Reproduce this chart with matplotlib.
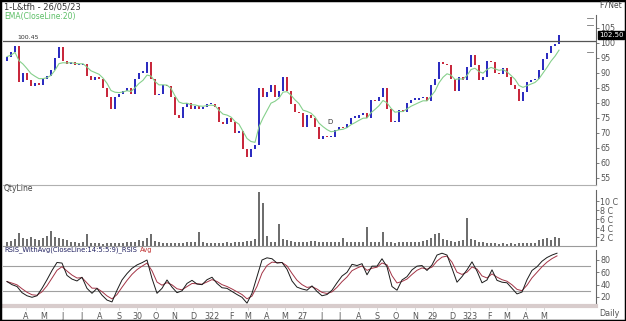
import numpy as np
import pandas as pd
import matplotlib
matplotlib.use("Agg")
import matplotlib.pyplot as plt
from matplotlib.patches import Rectangle

# ---- data (one sample every ~4 trading days) ----
closes = [
    95.3, 97, 99, 87, 90, 87.5, 85.5, 86.5, 86, 88,
    89, 91, 95, 98.5, 94, 93, 93.5, 92.5, 92.5, 93,
    89, 87.5, 88.5, 88, 85, 82, 78, 82, 83, 84,
    85, 83, 88, 90, 90, 93.5, 88, 82.5, 83, 86,
    85.5, 82, 76, 75, 78.5, 80, 78, 79, 78, 78.5,
    79.5, 79.5, 78.5, 73.5, 73, 75, 73.5, 70, 70.5, 64.5,
    62, 64.5, 66, 85, 82, 83.5, 86, 82, 84, 88.5,
    84, 79.5, 77, 76.5, 72, 76, 75, 72, 68, 69,
    68.5, 68.5, 71, 72, 71.5, 73, 75, 75, 76, 76.5,
    75, 81, 80.5, 82, 85, 78, 73.5, 73.5, 77.5, 77,
    80, 81, 81, 81.5, 82, 80.5, 86, 88, 93.5, 93,
    92.5, 88, 84, 88.5, 87.5, 92, 96, 92.5, 87.5, 88.5,
    94, 93.5, 90, 89.5, 91.5, 88.5, 86, 84.5, 80.5, 83.5,
    87, 87.5, 88, 91, 94.5, 96.5, 99, 99.5, 102.5,
]
volume_cr = [
    1.0, 1.2, 1.6, 2.9, 1.8, 1.5, 2.0, 1.6, 1.3, 1.8,
    2.2, 3.4, 2.0, 1.8, 1.6, 1.4, 1.0, 0.8, 0.7, 0.8,
    2.7, 0.7, 0.6, 0.6, 0.5, 0.6, 0.7, 0.6, 0.6, 0.7,
    0.8, 0.8, 1.0, 1.3, 1.2, 1.8, 2.7, 1.2, 0.8, 0.6,
    0.6, 0.6, 0.6, 0.6, 0.7, 0.8, 0.8, 0.9, 3.2, 0.8,
    0.7, 0.6, 0.7, 0.6, 0.7, 0.8, 0.7, 0.8, 0.9, 1.0,
    1.1, 1.2, 1.5, 12.0, 9.5, 2.2, 0.9, 0.8, 5.0, 1.5,
    1.3, 1.1, 0.9, 0.8, 0.9, 1.0, 1.2, 1.1, 1.0, 0.8,
    0.8, 0.9, 1.0, 0.8, 1.7, 1.0, 0.9, 0.8, 0.8, 0.8,
    4.2, 1.0, 1.0, 0.9, 3.1, 0.9, 0.8, 0.7, 0.9, 0.8,
    1.0, 0.9, 1.0, 0.9, 1.2, 1.3, 1.8, 2.7, 3.0, 1.6,
    1.3, 1.2, 1.0, 1.1, 1.3, 6.2, 1.5, 1.3, 1.0, 0.8,
    0.7, 0.6, 0.6, 0.5, 0.6, 0.5, 0.6, 0.5, 0.6, 0.7,
    0.6, 0.6, 0.7, 1.3, 1.6, 1.8, 1.4, 2.0, 1.7,
]
# RSI sampled every 5 trading days
rsi = [
    45, 40, 37, 27, 22, 19.5, 22, 34, 48, 63,
    76, 75, 55, 49, 46, 52, 34, 26, 34, 23,
    15, 12, 31, 47.6, 58, 66.5, 72, 75.6, 80, 50,
    26, 34, 47.6, 36, 27, 30, 42, 47, 41, 40,
    48, 52, 42, 35, 34, 29, 24, 19.5, 10, 26,
    53, 80, 83.5, 82, 75, 76, 65, 46, 36, 33,
    31, 38, 29, 22, 24, 31, 43, 54, 60, 73,
    71, 74, 56, 70, 70, 82, 69, 37, 31, 47.6,
    53, 64, 70, 71, 63, 72, 88, 91, 88, 66.5,
    44, 53, 64, 77, 62, 43, 47.6, 64, 47, 44,
    43, 34, 25, 28, 48, 63, 69, 78, 84, 88, 91,
]
month_labels = ["A", "M", "J", "J", "A", "S", "30", "O", "N", "D", "322", "F", "M", "A", "M",
                "27", "J", "J", "A", "S", "O", "N", "29", "D", "323", "F", "M", "A", "M"]
month_days = [19, 37, 56, 75, 93, 112, 130, 149, 167, 186, 205, 224, 241, 260, 278,
              296, 315, 333, 352, 370, 389, 408, 426, 445, 463, 482, 500, 519, 537]
ref_level = 100.45
d_marker_day = 323

days = np.arange(len(closes)) * 4
rsi_days = np.arange(len(rsi)) * 5
closes_s = pd.Series(closes, dtype=float)
opens = closes_s.shift(1).fillna(closes_s.iloc[0] - 1.5)
ema = closes_s.ewm(span=6, adjust=False).mean()
rsi_s = pd.Series(rsi, dtype=float)
rsi_avg = rsi_s.ewm(span=3, adjust=False).mean()

W, H = 626, 321
fig = plt.figure(figsize=(W / 100, H / 100), dpi=100)
fig.patch.set_facecolor("white")


def px_rect(x0, y0, x1, y1):
    return [x0 / W, 1 - y1 / H, (x1 - x0) / W, (y1 - y0) / H]


def ftext(x, y, s, **kw):
    fig.text(x / W, 1 - y / H, s, **kw)


XL = (-4, 589)
TICK_C = "#555555"

# ---- price panel ----
ax_p = fig.add_axes(px_rect(3, 15, 596, 185))
up = closes_s.values >= opens.values
body_lo = np.minimum(opens.values, closes_s.values)
body_h = np.maximum(np.abs(closes_s.values - opens.values), 0.4)
cols = np.where(up, "#2c2cc0", "#c8283c")
ax_p.bar(days, body_h, bottom=body_lo, width=2.4, color=cols, edgecolor="none")
ax_p.plot(days, ema, color="#86d08c", lw=0.8)
ax_p.axhline(ref_level, color="#555555", lw=0.9)
ax_p.text(10, ref_level + 0.7, "100.45", fontsize=4.5, color="#333333")
ax_p.text(d_marker_day, closes[d_marker_day // 4] + 4.5, "D", fontsize=5, color="#333333", ha="center")
ax_p.set_xlim(*XL)
ax_p.set_ylim(52.5, 109.17)
ax_p.set_yticks(range(55, 106, 5))
for lv in (108.2, 105.8, 96.8):
    ax_p.plot([0.985, 0.995], [lv, lv], transform=ax_p.get_yaxis_transform(), color="#777777", lw=0.6)
ax_p.annotate(f"{closes[-1]:.2f}", xy=(1.0, closes[-1]), xycoords=ax_p.get_yaxis_transform(),
              xytext=(2, 0), textcoords="offset points", va="center", fontsize=5, color="white",
              bbox=dict(boxstyle="square,pad=0.12", fc="black", ec="black"))

# ---- volume panel ----
ax_v = fig.add_axes(px_rect(3, 190, 596, 246))
ax_v.bar(days, volume_cr, width=2.6, color="#6e6e6e", edgecolor="none")
ax_v.set_xlim(*XL)
ax_v.set_ylim(0, 12.5)
ax_v.set_yticks([2, 4, 6, 8, 10])
ax_v.set_yticklabels(["2 C", "4 C", "6 C", "8 C", "10 C"])

# ---- RSI panel ----
ax_r = fig.add_axes(px_rect(3, 250, 596, 306))
ax_r.plot([XL[0], 583], [70, 70], color="#a0a0a0", lw=0.8)
ax_r.plot([XL[0], 583], [30, 30], color="#a0a0a0", lw=0.8)
ax_r.plot(rsi_days, rsi_avg, color="#a33446", lw=0.7)
ax_r.plot(rsi_days, rsi_s, color="#1a1a1a", lw=0.7)
ax_r.set_xlim(*XL)
ax_r.set_ylim(5.4, 96.2)
ax_r.set_yticks([20, 40, 60, 80])

for ax in (ax_p, ax_v, ax_r):
    for side in ("top", "left"):
        ax.spines[side].set_visible(False)
    ax.spines["right"].set_color("#666666")
    ax.spines["right"].set_linewidth(0.8)
    ax.yaxis.tick_right()
    ax.tick_params(axis="y", direction="out", length=2, width=0.6, colors="#666666",
                   labelsize=5.8, labelcolor=TICK_C, pad=1)
    ax.set_facecolor("none")

ax_p.spines["bottom"].set_color("#b0b0b0")
ax_p.set_xticks([])
ax_v.spines["bottom"].set_color("#9a9a9a")
ax_v.set_xticks([])
ax_r.spines["bottom"].set_color("#d8cccc")
ax_r.spines["bottom"].set_linewidth(3)
ax_r.set_xticks(month_days)
ax_r.set_xticklabels(month_labels)
ax_r.tick_params(axis="x", length=3, width=0.5, colors="#c8c8c8", labelsize=5.8,
                 labelcolor=TICK_C, pad=1)

# ---- header texts ----
ftext(4, 7, "1-L&tfh - 26/05/23", fontsize=6, color="#333333", va="center")
ftext(4, 16, "EMA(CloseLine:20)", fontsize=5.5, color="#5cbf66", va="center")
ftext(622, 6, "F7Net", fontsize=5.5, color="#444444", va="center", ha="right")
ftext(4, 189, "QtyLine", fontsize=5.5, color="#444444", va="center")
ftext(4, 250, "RSIS_WithAvg(CloseLine:14:5:5:9)_RSIS", fontsize=4.9, color="#202060", va="center")
ftext(140, 250, "Avg", fontsize=4.9, color="#c03030", va="center")
ftext(620, 314, "Daily", fontsize=5.8, color=TICK_C, va="center", ha="right")

fig.add_artist(Rectangle((0, 0), 1, 1, transform=fig.transFigure, fill=False,
                         edgecolor="black", linewidth=2.5))

fig.savefig("out.png", dpi=100)
